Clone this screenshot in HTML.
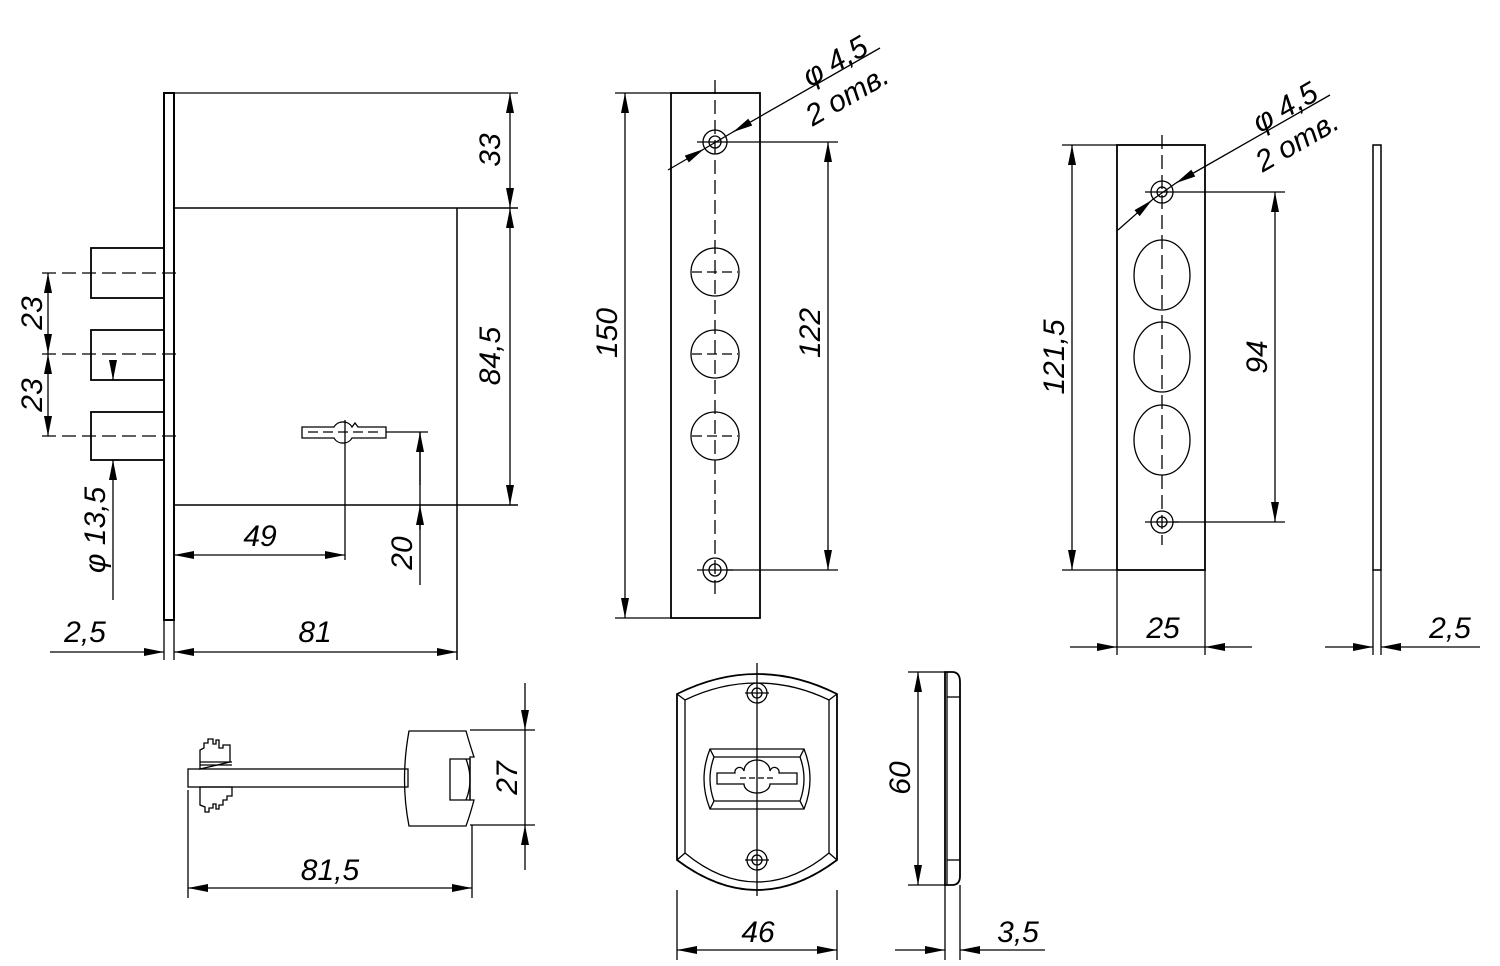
<!DOCTYPE html>
<html><head><meta charset="utf-8"><style>
html,body{margin:0;padding:0;background:#fff}
svg{display:block}
text{font-family:"Liberation Sans",sans-serif;font-style:italic;font-size:30px;fill:#000}
</style></head><body>
<svg width="1500" height="966" viewBox="0 0 1500 966" xmlns="http://www.w3.org/2000/svg">
<defs>
<marker id="a" viewBox="0 0 20 8" refX="20" refY="4" markerWidth="20" markerHeight="8" markerUnits="userSpaceOnUse" orient="auto-start-reverse"><path d="M0,0L20,4L0,8z" fill="#000"/></marker>
</defs>
<g fill="none" stroke="#000" stroke-width="1.3">
<!-- main lock -->
<rect x="164" y="93" width="10" height="527" stroke-width="2"/>
<line x1="174" y1="93" x2="518" y2="93"/>
<line x1="174" y1="208" x2="518" y2="208" stroke-width="1.5"/>
<line x1="174" y1="505" x2="518" y2="505" stroke-width="1.5"/>
<line x1="457" y1="208" x2="457" y2="660" stroke-width="1.5"/>
<rect x="91" y="248" width="73" height="50" stroke-width="1.8"/>
<rect x="91" y="330" width="73" height="50" stroke-width="1.8"/>
<rect x="91" y="412" width="73" height="48" stroke-width="1.8"/>
<g stroke-dasharray="14,6">
<line x1="42" y1="273" x2="180" y2="273"/>
<line x1="42" y1="354" x2="180" y2="354"/>
<line x1="42" y1="436" x2="180" y2="436"/>
</g>
<line x1="48" y1="273" x2="48" y2="354" marker-start="url(#a)" marker-end="url(#a)"/>
<line x1="48" y1="354" x2="48" y2="436" marker-start="url(#a)" marker-end="url(#a)"/>
<line x1="113" y1="360" x2="113" y2="380" marker-end="url(#a)"/>
<line x1="113" y1="600" x2="113" y2="460" marker-end="url(#a)"/>
<!-- keyhole -->
<path d="M302,427H334a10,9 0 0 1 18,0l3,-4l3,4H386v11H352a10,9 0 0 1 -18,0H302z"/>
<line x1="308" y1="432" x2="380" y2="432" stroke-dasharray="10,5"/>
<line x1="345" y1="420" x2="345" y2="560"/>
<line x1="174" y1="555" x2="345" y2="555" marker-start="url(#a)" marker-end="url(#a)"/>
<line x1="386" y1="432" x2="428" y2="432"/>
<line x1="420" y1="432" x2="420" y2="585"/>
<line x1="420" y1="485" x2="420" y2="432" marker-end="url(#a)"/>
<line x1="420" y1="530" x2="420" y2="505" marker-end="url(#a)"/>
<line x1="510" y1="93" x2="510" y2="208" marker-start="url(#a)" marker-end="url(#a)"/>
<line x1="510" y1="208" x2="510" y2="505" marker-start="url(#a)" marker-end="url(#a)"/>
<line x1="164" y1="620" x2="164" y2="660"/>
<line x1="174" y1="620" x2="174" y2="660"/>
<line x1="50" y1="652" x2="164" y2="652" marker-end="url(#a)"/>
<line x1="174" y1="652" x2="457" y2="652" marker-start="url(#a)" marker-end="url(#a)"/>
<!-- faceplate front -->
<rect x="671" y="93" width="89" height="525" stroke-width="1.8"/>
<line x1="715" y1="80" x2="715" y2="600" stroke-dasharray="14,6"/>
<circle cx="715" cy="142" r="12"/><circle cx="715" cy="142" r="6"/>
<circle cx="715" cy="570" r="12"/><circle cx="715" cy="570" r="6"/>
<line x1="697" y1="570" x2="733" y2="570"/>
<circle cx="715" cy="272" r="24"/><circle cx="715" cy="354" r="24"/><circle cx="715" cy="436" r="24"/>
<line x1="692" y1="272" x2="738" y2="272" stroke-dasharray="10,5"/>
<line x1="692" y1="354" x2="738" y2="354" stroke-dasharray="10,5"/>
<line x1="692" y1="436" x2="738" y2="436" stroke-dasharray="10,5"/>
<line x1="615" y1="93" x2="671" y2="93"/><line x1="615" y1="618" x2="671" y2="618"/>
<line x1="625" y1="93" x2="625" y2="618" marker-start="url(#a)" marker-end="url(#a)"/>
<line x1="697" y1="142" x2="838" y2="142"/><line x1="727" y1="570" x2="838" y2="570"/>
<line x1="828" y1="142" x2="828" y2="570" marker-start="url(#a)" marker-end="url(#a)"/>
<line x1="880" y1="48" x2="733" y2="132" marker-end="url(#a)"/>
<line x1="668" y1="170" x2="704" y2="149" marker-end="url(#a)"/>
<line x1="704" y1="149" x2="733" y2="132"/>
<!-- strike plate -->
<rect x="1117" y="145" width="88" height="425" stroke-width="1.8"/>
<line x1="1162" y1="135" x2="1162" y2="545" stroke-dasharray="14,6"/>
<circle cx="1162" cy="192" r="11"/><circle cx="1162" cy="192" r="5"/>
<circle cx="1162" cy="522" r="11"/><circle cx="1162" cy="522" r="5"/>
<line x1="1145" y1="522" x2="1179" y2="522"/>
<ellipse cx="1162" cy="275" rx="28" ry="35"/><ellipse cx="1162" cy="357" rx="28" ry="35"/><ellipse cx="1162" cy="440" rx="28" ry="35"/>
<line x1="1062" y1="145" x2="1117" y2="145"/><line x1="1062" y1="570" x2="1117" y2="570"/>
<line x1="1072" y1="145" x2="1072" y2="570" marker-start="url(#a)" marker-end="url(#a)"/>
<line x1="1145" y1="192" x2="1285" y2="192"/><line x1="1173" y1="522" x2="1285" y2="522"/>
<line x1="1275" y1="192" x2="1275" y2="522" marker-start="url(#a)" marker-end="url(#a)"/>
<line x1="1330" y1="95" x2="1176" y2="183" marker-end="url(#a)"/>
<line x1="1118" y1="230" x2="1152" y2="200" marker-end="url(#a)"/>
<line x1="1152" y1="200" x2="1176" y2="183"/>
<line x1="1117" y1="570" x2="1117" y2="655"/><line x1="1205" y1="570" x2="1205" y2="655"/>
<line x1="1070" y1="647" x2="1117" y2="647" marker-end="url(#a)"/>
<line x1="1252" y1="647" x2="1205" y2="647" marker-end="url(#a)"/>
<line x1="1117" y1="647" x2="1205" y2="647"/>
<rect x="1373" y="145" width="8" height="425" stroke-width="1.5"/>
<line x1="1373" y1="570" x2="1373" y2="655"/><line x1="1381" y1="570" x2="1381" y2="655"/>
<line x1="1325" y1="647" x2="1373" y2="647" marker-end="url(#a)"/>
<line x1="1480" y1="647" x2="1381" y2="647" marker-end="url(#a)"/>
<!-- key -->
<rect x="188" y="769" width="220" height="18"/>
<path d="M200,769V750l4,-2v-5h4v-4h5v5h3v-4h3v8h4v-3h7v17z"/>
<line x1="200" y1="762" x2="232" y2="762"/><line x1="200" y1="765" x2="232" y2="765"/>
<path d="M200,787v18l5,2v5h4v-4h4v-4h3v5h3v-4h4v-5h4v-4h5v-9z"/>
<path d="M409,731H466Q470,745 474,757H470V800H474Q470,815 466,826H409Q400,780 409,731z"/>
<path d="M450,759h20v41h-20z"/>
<path d="M466,759Q474,780 466,800"/>
<line x1="470" y1="730" x2="535" y2="730"/><line x1="470" y1="825" x2="535" y2="825"/>
<line x1="525" y1="683" x2="525" y2="730" marker-end="url(#a)"/>
<line x1="525" y1="870" x2="525" y2="825" marker-end="url(#a)"/>
<line x1="525" y1="730" x2="525" y2="825"/>
<line x1="188" y1="790" x2="188" y2="898"/><line x1="472" y1="825" x2="472" y2="898"/>
<line x1="188" y1="888" x2="472" y2="888" marker-start="url(#a)" marker-end="url(#a)"/>
<!-- escutcheon -->
<path d="M677,694Q717,674 757,674Q797,674 837,694V860Q797,890 757,890Q717,890 677,860Z" stroke-width="1.8"/>
<path d="M685,700Q720,683 757,683Q794,683 829,700V853Q794,882 757,882Q720,882 685,853Z"/>
<line x1="677" y1="694" x2="685" y2="700"/><line x1="837" y1="694" x2="829" y2="700"/>
<line x1="677" y1="860" x2="685" y2="853"/><line x1="837" y1="860" x2="829" y2="853"/>
<line x1="757" y1="663" x2="757" y2="896"/>
<circle cx="757" cy="693" r="10"/><circle cx="757" cy="693" r="5"/>
<line x1="745" y1="693" x2="769" y2="693"/>
<circle cx="757" cy="860" r="10"/><circle cx="757" cy="860" r="5"/>
<line x1="745" y1="860" x2="769" y2="860"/>
<path d="M710,749H804Q816,779 804,809H710Q698,779 710,749Z"/>
<path d="M714,757H800Q808,779 800,801H714Q706,779 714,757Z"/>
<line x1="710" y1="749" x2="714" y2="757"/><line x1="804" y1="749" x2="800" y2="757"/>
<line x1="710" y1="809" x2="714" y2="801"/><line x1="804" y1="809" x2="800" y2="801"/>
<path d="M717,773H735a4,4 0 0 1 9,-2a13,11 0 0 1 26,0a4,4 0 0 1 9,2H797V784H770a13,9 0 0 1 -26,0H717z"/>
<line x1="740" y1="778" x2="775" y2="778" stroke-dasharray="6,3"/>
<path d="M945,672H952Q960,672 960,682V876Q960,885 952,885H945Z" stroke-width="1.8"/>
<line x1="947" y1="672" x2="947" y2="885"/>
<line x1="947" y1="697" x2="960" y2="697"/><line x1="947" y1="860" x2="960" y2="860"/>
<line x1="908" y1="672" x2="945" y2="672"/><line x1="908" y1="885" x2="945" y2="885"/>
<line x1="918" y1="672" x2="918" y2="885" marker-start="url(#a)" marker-end="url(#a)"/>
<line x1="945" y1="885" x2="945" y2="960"/><line x1="960" y1="885" x2="960" y2="960"/>
<line x1="895" y1="950" x2="945" y2="950" marker-end="url(#a)"/>
<line x1="1045" y1="950" x2="960" y2="950" marker-end="url(#a)"/>
<line x1="677" y1="890" x2="677" y2="960"/><line x1="837" y1="890" x2="837" y2="960"/>
<line x1="677" y1="950" x2="837" y2="950" marker-start="url(#a)" marker-end="url(#a)"/>
</g>
<!-- labels -->
<text transform="translate(500,150) rotate(-90)" text-anchor="middle">33</text>
<text transform="translate(500,356) rotate(-90)" text-anchor="middle">84,5</text>
<text transform="translate(42,313) rotate(-90)" text-anchor="middle">23</text>
<text transform="translate(42,395) rotate(-90)" text-anchor="middle">23</text>
<text transform="translate(105,530) rotate(-90)" text-anchor="middle">φ 13,5</text>
<text x="260" y="546" text-anchor="middle">49</text>
<text transform="translate(412,553) rotate(-90)" text-anchor="middle">20</text>
<text x="85" y="642" text-anchor="middle">2,5</text>
<text x="315" y="642" text-anchor="middle">81</text>
<text transform="translate(617,333) rotate(-90)" text-anchor="middle">150</text>
<text transform="translate(820,333) rotate(-90)" text-anchor="middle">122</text>
<text transform="translate(840,70) rotate(-30)" text-anchor="middle">φ 4,5</text>
<text transform="translate(852,104) rotate(-30)" text-anchor="middle">2 отв.</text>
<text transform="translate(1064,357) rotate(-90)" text-anchor="middle">121,5</text>
<text transform="translate(1267,357) rotate(-90)" text-anchor="middle">94</text>
<text transform="translate(1290,116) rotate(-30)" text-anchor="middle">φ 4,5</text>
<text transform="translate(1302,150) rotate(-30)" text-anchor="middle">2 отв.</text>
<text x="1163" y="638" text-anchor="middle">25</text>
<text x="1450" y="638" text-anchor="middle">2,5</text>
<text transform="translate(517,778) rotate(-90)" text-anchor="middle">27</text>
<text x="330" y="880" text-anchor="middle">81,5</text>
<text transform="translate(910,778) rotate(-90)" text-anchor="middle">60</text>
<text x="758" y="942" text-anchor="middle">46</text>
<text x="1018" y="942" text-anchor="middle">3,5</text>
</svg>
</body></html>
